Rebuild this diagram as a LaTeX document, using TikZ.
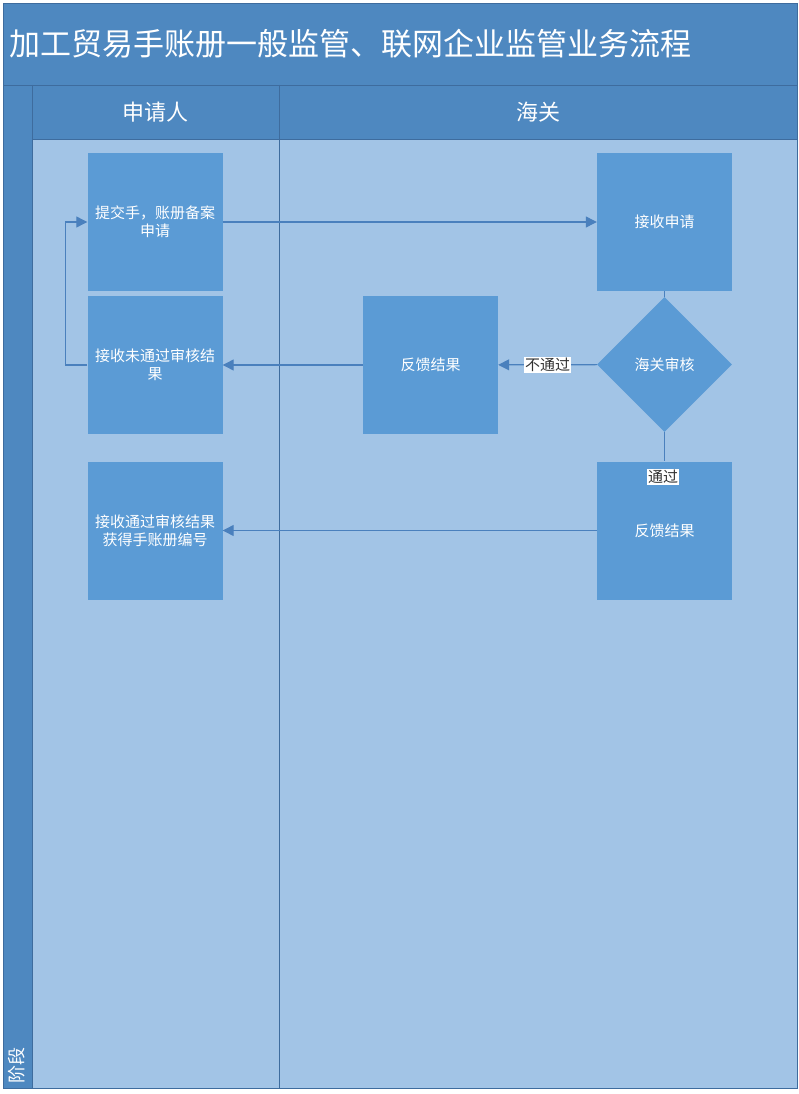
\documentclass[tikz,border=0pt]{standalone}
\usepackage{fontspec}
\setmainfont{Noto Sans CJK SC}
\usepackage{xcolor}
\usetikzlibrary{positioning,shapes,arrows.meta}
\usetikzlibrary{shapes.geometric}

\definecolor{headblue}{HTML}{4E88C0}
\definecolor{lanebg}{HTML}{A2C4E6}
\definecolor{boxblue}{HTML}{5B9BD5}
\definecolor{lineblue}{HTML}{4A80BD}
\definecolor{edgeblue}{HTML}{3E6C9E}

\tikzset{
  stepbox/.style={draw=none,fill=boxblue,minimum width=135pt,minimum height=138pt,
    text width=130pt,align=center,text=white,font=\fontsize{15}{18}\selectfont,inner sep=0pt},
  checkbox/.style={diamond,fill=boxblue,minimum width=135pt,minimum height=135pt,
    text=white,font=\fontsize{15}{18}\selectfont,inner sep=0pt},
  flow/.style={draw=lineblue,line width=1.2pt,-{Triangle[length=11pt,width=11pt]}},
  tag/.style={fill=white,text=black!80,font=\fontsize{15}{17}\selectfont,inner sep=1pt}
}

\begin{document}
\begin{tikzpicture}[x=1pt,y=-1pt]
  \useasboundingbox (0,0) rectangle (799,1094);
  % frame and lanes
  \fill[white] (0,0) rectangle (799,1094);
  \fill[headblue] (3,3) rectangle (797,1088);
  \fill[lanebg] (32,139) rectangle (797,1088);
  \draw[edgeblue,line width=0.8pt] (3,3) rectangle (797,1088);
  \draw[edgeblue,line width=0.8pt] (3,85) -- (797,85);
  \draw[edgeblue,line width=0.8pt] (32,85) -- (32,1088);
  \draw[edgeblue,line width=0.8pt] (32,139) -- (797,139);
  \draw[edgeblue,line width=1pt] (279,85) -- (279,1088);
  \node[anchor=west,text=white,font=\fontsize{31}{34}\selectfont,inner sep=0pt] (title) at (9,44)
    {加工贸易手账册一般监管、联网企业监管业务流程};
  \node[text=white,font=\fontsize{22}{24}\selectfont] (applicant) at (155.5,112) {申请人};
  \node[text=white,font=\fontsize{22}{24}\selectfont] (customs) at (538,112) {海关};
  \node[rotate=90,anchor=west,text=white,font=\fontsize{18}{20}\selectfont,inner sep=0pt] (stage) at (17,1084) {阶段};

  % steps
  \node[stepbox] (submit) at (155,222) {提交手，账册备案\\申请};
  \node[stepbox] (reject) at (155,365) {接收未通过审核结\\果};
  \node[stepbox] (accept) at (155,530.5) {接收通过审核结果\\获得手账册编号};
  \node[stepbox] (receive) at (664.5,222) {接收申请};
  \node[checkbox] (check) at (664.5,364.5) {海关审核};
  \node[stepbox] (backno) at (430.5,365) {反馈结果};
  \node[stepbox] (backyes) at (664.5,530.5) {反馈结果};

  % connectors
  \draw[flow] (submit) -- (receive);
  \draw[draw=lineblue,line width=1.2pt] (receive) -- (check);
  \draw[flow] (check) -- node[tag,pos=0.5] {不通过} (backno);
  \draw[flow] (backno) -- (reject);
  \draw[flow] (reject.west) -- ++(-22,0) |- (submit.west);
  \draw[draw=lineblue,line width=1.2pt] (check) -- (backyes.north);
  \node[tag] (yes) at (663,477) {通过};
  \draw[flow] (backyes) -- (accept);
\end{tikzpicture}
\end{document}
